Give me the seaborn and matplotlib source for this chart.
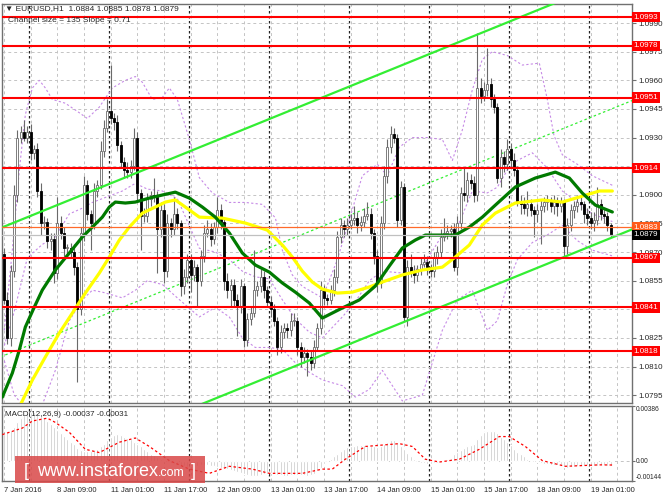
import numpy as np
import seaborn as sns
import matplotlib.pyplot as plt
import matplotlib.transforms as mtrans
from matplotlib import font_manager
from matplotlib.patches import Rectangle

sns.set_style("white")
plt.rcParams['font.family'] = ['Liberation Sans', 'DejaVu Sans']
installed = {f.name for f in font_manager.fontManager.ttflist}
NARROW = 'Liberation Sans Narrow' if 'Liberation Sans Narrow' in installed else 'Liberation Sans'
nsize = 6.9 if NARROW == 'Liberation Sans Narrow' else 5.8

# EURUSD H1 - prices are stored as pips above 1.0800
BASE = 1.0800

first_open = 69
closes = [
    45, 25, 60, 100, 130, 133, 130, 133, 122, 124,
    102, 85, 86, 76, 77, 59, 85, 80, 72, 72,
    70, 62, 40, 80, 105, 90, 85, 102, 105, 123,
    135, 144, 140, 138, 126, 117, 113, 112, 115, 130,
    101, 89, 89, 98, 100, 99, 82, 92, 60, 85,
    82, 90, 85, 52, 57, 66, 58, 62, 55, 68,
    80, 82, 77, 83, 92, 86, 55, 50, 53, 45,
    41, 52, 24, 35, 38, 50, 52, 57, 50, 44,
    40, 34, 20, 28, 30, 29, 34, 34, 20, 15,
    17, 15, 12, 20, 30, 50, 46, 45, 50, 57,
    78, 84, 82, 84, 87, 88, 84, 86, 89, 90,
    80, 68, 54, 85, 110, 125, 132, 130, 87, 104,
    36, 62, 60, 58, 61, 64, 65, 62, 60, 67,
    70, 78, 80, 81, 82, 62, 85, 101, 100, 108,
    106, 100, 156, 152, 155, 158, 150, 146, 109, 120,
    116, 124, 118, 113, 97, 95, 93, 95, 92, 90,
    92, 94, 96, 97, 94, 96, 94, 96, 73, 84,
    92, 94, 96, 95, 90, 88, 85, 87, 95, 90,
    89, 84, 79]
upper_wick = [
    3, 4, 3, 5, 4, 3, 6, 3, 4, 2,
    3, 4, 3, 2, 3, 3, 14, 4, 3, 2,
    3, 4, 3, 3, 5, 3, 2, 4, 3, 5,
    4, 6, 24, 3, 4, 2, 3, 4, 3, 5,
    3, 2, 4, 3, 2, 9, 3, 4, 3, 5,
    3, 9, 3, 2, 4, 3, 3, 4, 2, 3,
    4, 5, 3, 3, 7, 3, 2, 4, 3, 3,
    3, 4, 2, 3, 3, 21, 3, 4, 3, 2,
    3, 3, 2, 4, 3, 3, 4, 4, 2, 3,
    3, 2, 3, 4, 3, 5, 3, 2, 3, 4,
    3, 4, 3, 4, 3, 6, 3, 3, 4, 6,
    3, 2, 3, 4, 5, 4, 4, 3, 2, 3,
    2, 4, 7, 3, 2, 3, 4, 3, 2, 3,
    3, 4, 8, 3, 2, 3, 4, 3, 13, 4,
    3, 4, 29, 5, 4, 19, 3, 3, 2, 4,
    3, 5, 3, 4, 2, 3, 4, 7, 3, 2,
    3, 4, 3, 3, 2, 4, 3, 3, 2, 4,
    3, 3, 4, 3, 2, 3, 3, 4, 9, 3,
    3, 2, 1]
lower_wick = [
    2, 3, 4, 3, 4, 3, 2, 3, 4, 3,
    3, 6, 3, 4, 5, 5, 3, 3, 4, 3,
    3, 4, 38, 3, 4, 3, 14, 3, 3, 2,
    3, 2, 3, 4, 3, 3, 4, 3, 3, 2,
    4, 18, 3, 3, 4, 3, 23, 4, 6, 3,
    4, 3, 3, 5, 4, 3, 9, 3, 14, 3,
    3, 2, 4, 3, 3, 4, 5, 4, 9, 4,
    15, 3, 4, 3, 3, 2, 3, 3, 4, 3,
    4, 3, 4, 3, 3, 4, 3, 3, 4, 5,
    3, 10, 4, 3, 2, 3, 4, 3, 2, 3,
    3, 3, 4, 3, 2, 3, 4, 3, 3, 2,
    3, 4, 5, 3, 3, 4, 3, 3, 4, 3,
    2, 5, 3, 4, 3, 3, 2, 4, 3, 3,
    3, 3, 2, 3, 3, 2, 4, 3, 3, 4,
    3, 4, 3, 4, 3, 3, 4, 3, 3, 5,
    4, 3, 4, 3, 3, 5, 3, 4, 3, 12,
    4, 18, 3, 4, 3, 4, 5, 3, 5, 4,
    3, 4, 3, 3, 5, 4, 3, 4, 3, 3,
    4, 3, 1]

# moving averages (sampled along the line)
green_bars = [-0.5, 2.5, 4.6, 6.4, 9.1, 11.5, 15.4, 19.6, 23.5, 26.5, 29.5, 31.6, 33.4, 36.4, 39.4,
              43.6, 47.5, 51.4, 55.6, 59.5, 63.4, 67.6, 71.5, 75.4, 79.6, 83.5, 87.4, 91.6, 95.5,
              101.5, 106.6, 111.4, 115.6, 119.5, 123.4, 126.4, 135.4, 139.6, 143.5, 147.4, 153.4,
              159.4, 165.4, 169.6, 173.5, 177.4, 182.5]
green_ma = [-6, 6.6, 18.7, 30.7, 41.2, 50.1, 60.6, 69.5, 77.9, 83.1, 88.3, 93.6, 96.2, 95.7, 96.2,
            98.3, 99.9, 101.4, 98.3, 93.6, 88.3, 80, 69.5, 63.2, 59.5, 53.8, 49, 43.3, 35.4,
            40.7, 44.9, 52.2, 62.7, 72.1, 76.3, 78.9, 78.9, 83.1, 88.3, 94.6, 104.1,
            108.8, 111.9, 108.8, 100.9, 94.6, 91]
yellow_bars = [4.9, 8.5, 12.4, 16.6, 20.5, 24.4, 28.6, 31.6, 34.6, 37.6, 41.5, 45.4, 48.4, 51.4,
               54.4, 58.6, 65.5, 72.4, 79, 83.5, 86.5, 89.5, 92.5, 95.5, 100, 104.5, 109.6, 113.5,
               119.5, 125.5, 131.5, 135.4, 139.6, 143.5, 147.4, 153.4, 161.5, 167.5, 173.5, 178.6, 182.5]
yellow_ma = [-10.2, 2.9, 15, 27.6, 38, 48.5, 59, 67.4, 76.3, 83.1, 90.4, 93.6, 96.2, 97.3,
             93.6, 88.3, 87.8, 85.2, 81.5, 73.7, 67.4, 60, 54.3, 50.6, 48.5, 49, 51.7, 54.3,
             58, 60.6, 62.1, 67.4, 73.7, 84.2, 90.4, 95.7, 97.3, 96.2, 99.3, 102, 102]

# bollinger bands (sampled)
bb_up_bars = [0.1, 2.5, 4.6, 6.4, 8.5, 10.6, 12.4, 14.5, 18.4, 22.6, 25, 28.6, 32.5, 36.4, 39.4,
              41.5, 44.5, 47.5, 49.6, 52, 55.6, 58.6, 62.5, 67.6, 72.4, 77.5, 81.4, 83.5, 86.5,
              89.5, 95.5, 100, 103.6, 107.5, 112, 115, 118.6, 122.5, 127, 131.5, 134.5, 137.5,
              140.5, 143.5, 146.5, 151, 155.5, 160.6, 163, 165, 167.5, 172, 176.5, 182.5]
bb_upper = [29, 71, 113, 142, 156, 160, 156, 150, 148, 143, 140, 146, 156, 160, 162,
            159, 150, 151, 156, 150, 129, 109, 101, 96, 96, 95, 88, 71, 58,
            52, 46, 66, 87, 110, 116, 110, 125, 130, 130, 129, 118, 134,
            155, 171, 175, 173, 168, 169, 150, 131, 121, 116, 110, 105]
bb_lo_bars = [0.1, 3.1, 7, 11.5, 15.4, 19.6, 23.5, 26.5, 29.5, 35.5, 39.4, 43, 47.5, 52, 58.6,
              63.4, 67.6, 71.5, 75.4, 79.6, 83.5, 87.4, 91.6, 95.5, 101.5, 105.4, 109.6, 113.5,
              119.5, 125.5, 131.5, 136, 140.5, 145, 148, 151, 154, 158.5, 163, 167.5, 172,
              176.5, 182.5]
bb_lower = [13, -5, -13, -10, 8, 34, 45, 50, 49, 46, 50, 55, 53, 46, 36,
            41, 36, 25, 20, 20, 19, 12, 7, 3, 0, -6, -2, 8,
            -8, -5, 29, 45, 50, 29, 34, 53, 66, 75, 79, 84, 76,
            71, 68]
bb_middle = [21, 39, 67, 74, 78, 90, 93, 96, 98, 102, 106, 103, 102, 98, 72,
             70, 66, 60, 57, 56, 45, 35, 28, 25, 36, 44, 55, 60,
             59, 62, 79, 83, 102, 101, 104, 113, 118, 122, 114, 102, 96,
             90, 86]

# regression channel (size 135, slope 0.71)
channel_bars = [-1, 190]
channel_lower = [-52.4, 83.0]
channel_mid = [15.1, 150.5]
channel_upper = [82.6, 218.0]

levels = [193, 178, 151, 114, 67, 41, 18]
level_labels = ["1.0993", "1.0978", "1.0951", "1.0914", "1.0867", "1.0841", "1.0818"]
orange_level = 83
bid = 79

# MACD(12,26,9), in 1e-5
macd_hist = [
    190, 200, 215, 240, 270, 300, 325, 340, 345, 345,
    335, 320, 300, 280, 260, 235, 215, 195, 175, 155,
    135, 115, 90, 75, 68, 66, 70, 75, 85, 100,
    120, 145, 165, 180, 185, 180, 170, 160, 150, 130,
    115, 100, 85, 65, 50, 40, 25, 15, 5, -5,
    -15, -25, -30, -38, -40, -42, -40, -38, -35, -32,
    -30, -30, -35, -40, -45, -50, -55, -60, -65, -70,
    -78, -85, -95, -105, -110, -112, -108, -100, -95, -92,
    -90, -95, -100, -105, -108, -108, -105, -100, -100, -102,
    -105, -108, -105, -95, -75, -50, -25, 0, 15, 30,
    50, 70, 85, 95, 100, 105, 108, 110, 110, 108,
    105, 100, 95, 105, 120, 135, 145, 148, 130, 100,
    80, 55, 30, 10, -5, -15, -20, -22, -22, -20,
    -18, -10, 0, 10, 20, 45, 60, 75, 90, 100,
    110, 120, 150, 180, 200, 210, 212, 208, 195, 170,
    150, 130, 110, 85, 60, 45, 30, 15, 5, 0,
    -10, -18, -22, -25, -28, -30, -32, -35, -45, -50,
    -48, -45, -40, -38, -35, -32, -35, -38, -35, -33,
    -33, -35, -37]
sig_bars = [-0.5, 5.5, 8.5, 13, 15.4, 19.6, 24.4, 28.6, 34.6, 39.4, 43.6, 49.6, 55.6, 61.6, 67.6,
            74.5, 79.6, 89.5, 95.5, 98.5, 102.4, 108.4, 118.6, 122.5, 126.4, 130.6, 136.6, 142.6,
            148.6, 151.6, 156.4, 161.5, 168.4, 178.6, 182.5]
macd_signal = [184, 230, 280, 300, 270, 200, 80, 57, 130, 160, 100, 0, -60, -90, -40,
               -60, -90, -90, -60, -60, 10, 100, 120, 100, 10, -10, 10, 80,
               170, 170, 100, 0, -40, -30, -31]

tick_labels = ["7 Jan 2016", "8 Jan 09:00", "11 Jan 01:00", "11 Jan 17:00", "12 Jan 09:00",
               "13 Jan 01:00", "13 Jan 17:00", "14 Jan 09:00", "15 Jan 01:00", "15 Jan 17:00",
               "18 Jan 09:00", "19 Jan 01:00"]


def px(v):
    return BASE + np.asarray(v, dtype=float) / 1e4


W, H = 664, 498
fig = plt.figure(figsize=(W / 100, H / 100), dpi=100)
fig.patch.set_facecolor('white')
ax = fig.add_axes([2 / W, 1 - 403 / H, 630 / W, 399 / H])
mx = fig.add_axes([2 / W, 1 - 481 / H, 630 / W, 75 / H])

bars = np.arange(len(closes))
c = np.array(closes, dtype=float)
o = np.r_[first_open, c[:-1]]
hi = np.maximum(o, c) + np.array(upper_wick)
lo = np.minimum(o, c) - np.array(lower_wick)
xlim = (-0.6, 188.4)
grid_kw = dict(color='#c4c4c4', lw=0.7, ls=(0, (3, 3)), zorder=1)
sep_kw = dict(color='#202020', lw=0.9, ls=(0, (2, 2)), zorder=1)

for a in (ax, mx):
    a.set_xlim(*xlim)
    for b in range(0, 189, 8):
        a.axvline(b, **grid_kw)
    for b in np.arange(7.6, 189, 24):
        a.axvline(b, **sep_kw)
    for s in a.spines.values():
        s.set_color('#707070')
        s.set_linewidth(1)

# price panel
yt = np.arange(-5, 191, 15)
for v in yt:
    ax.axhline(px(v), **grid_kw)

ax.plot(channel_bars, px(channel_mid), color='#33ee33', lw=0.9, ls=(0, (2, 2)), zorder=3)

bb_kw = dict(color='#c68ae6', lw=0.8, ls=(0, (2, 2)), zorder=3)
ax.plot(bb_up_bars, px(bb_upper), **bb_kw)
ax.plot(bb_lo_bars, px(bb_lower), **bb_kw)
ax.plot(bb_lo_bars, px(bb_middle), **bb_kw)

ax.vlines(bars, px(lo), px(hi), color='#6a6a6a', lw=0.8, zorder=4)
bull = c >= o
body_b = px(np.minimum(o, c))
body_h = np.maximum(np.abs(c - o), 0.6) / 1e4
ax.bar(bars[bull], body_h[bull], bottom=body_b[bull], width=0.66, color='white',
       edgecolor='#6a6a6a', linewidth=0.6, zorder=5)
ax.bar(bars[~bull], body_h[~bull], bottom=body_b[~bull], width=0.66, color='black',
       edgecolor='black', linewidth=0.6, zorder=5)

sns.lineplot(x=yellow_bars, y=px(yellow_ma), ax=ax, color='#ffff00', lw=2.3, zorder=6)
sns.lineplot(x=green_bars, y=px(green_ma), ax=ax, color='#007a00', lw=2.3, zorder=6)

for ch in (channel_lower, channel_upper):
    ax.plot(channel_bars, px(ch), color='#33ee33', lw=1.6, zorder=7)

for v in levels:
    ax.axhline(px(v), color='#ff0000', lw=1.5, zorder=7)
ax.axhline(px(orange_level), color='#ff6a2a', lw=0.9, zorder=7)
ax.axhline(px(bid), color='#c0c0c0', lw=0.9, zorder=7)

ax.set_ylim(px(-9.1), px(200))
ax.yaxis.tick_right()
# 1.0915 and 1.0840 sit under the red level boxes
shown = [v for v in yt if v not in (115, 40)]
ax.set_yticks(px(shown), [f"{BASE + v / 1e4:.4f}" for v in shown])
ax.set_xticks([])
ax.tick_params(axis='y', labelsize=nsize, length=3, width=0.8, color='#707070', pad=1.5)

tr = mtrans.blended_transform_factory(ax.transAxes, ax.transData)
box = dict(boxstyle='square,pad=0.2', ec='none')
lab_kw = dict(transform=tr, ha='left', va='center', fontsize=nsize, family=NARROW,
              color='white', clip_on=False)
for v, lab in zip(levels, level_labels):
    ax.text(1.003, px(v), lab, bbox=dict(fc='#ff0000', **box), zorder=10, **lab_kw)
ax.text(1.003, px(orange_level), "1.0883", bbox=dict(fc='#ff5a1a', **box), zorder=10, **lab_kw)
ax.text(1.003, px(bid), "1.0879", bbox=dict(fc='black', **box), zorder=11, **lab_kw)

# MACD panel
mx.axhline(0, **grid_kw)
mx.bar(bars, np.array(macd_hist) / 1e5, width=0.55, color='#c0c0c0', zorder=2)
sns.lineplot(x=sig_bars, y=np.array(macd_signal) / 1e5, ax=mx, color='#ff0000', lw=0.9,
             linestyle=(0, (2, 2)), zorder=3)
mx.set_ylim(-0.00144, 0.00386)
mx.yaxis.tick_right()
mx.set_yticks([0.00386, 0.0, -0.00144], ["0.00386", "0.00", "-0.00144"])
labs = mx.get_yticklabels()
labs[0].set_va('top')
labs[2].set_va('bottom')
mx.set_xticks(np.arange(0, 177, 16), tick_labels, ha='left')
mx.tick_params(axis='y', labelsize=nsize - 1.0, length=2, width=0.8, color='#707070', pad=0.5)
mx.tick_params(axis='x', labelsize=nsize - 0.3, length=3, width=0.8, color='#707070', pad=1)
for t in ax.get_yticklabels() + mx.get_yticklabels() + mx.get_xticklabels():
    t.set_family(NARROW)
mx.set_xlabel('')
mx.set_ylabel('')
ax.set_xlabel('')
ax.set_ylabel('')

# header texts
fig.text(5 / W, 1 - 9 / H, "\u25bc EURUSD,H1  1.0884 1.0885 1.0878 1.0879", fontsize=6,
         va='center', ha='left', zorder=20)
fig.text(8 / W, 1 - 21 / H, "Channel size = 135 Slope = 0.71", fontsize=6,
         va='center', ha='left', zorder=20)
fig.text(5 / W, 1 - 414 / H, "MACD(12,26,9) -0.00037 -0.00031", fontsize=5.8,
         va='center', ha='left', zorder=20)

# watermark
fig.patches.append(Rectangle((15 / W, 1 - 483 / H), 190 / W, 27 / H, transform=fig.transFigure,
                             facecolor='#d94848', alpha=0.85, edgecolor='none', zorder=15))
fig.text(24 / W, 1 - 476 / H, "[", fontsize=13, color='white', va='baseline', zorder=16)
fig.text(37 / W, 1 - 476 / H, "www.instaforex", fontsize=13, color='white', va='baseline', zorder=16)
fig.text(158 / W, 1 - 476 / H, ".com", fontsize=9, color='white', va='baseline', zorder=16)
fig.text(191 / W, 1 - 476 / H, "]", fontsize=13, color='white', va='baseline', zorder=16)

fig.savefig('out.png', dpi=100)
